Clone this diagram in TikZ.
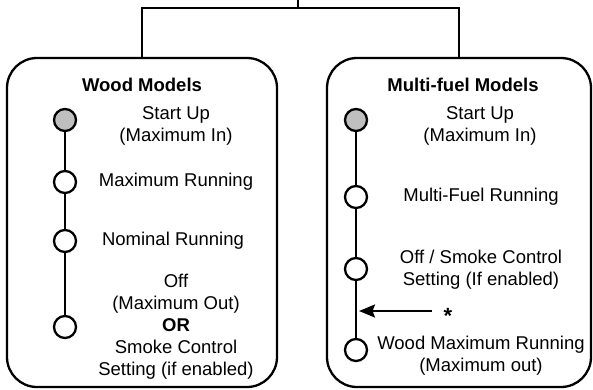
\documentclass[tikz,border=0pt]{standalone}
\usepackage{fontspec}
\setmainfont{Liberation Sans}
\usepackage{tikz}
\usetikzlibrary{calc, arrows.meta}

\begin{document}
\begin{tikzpicture}[x = 1pt, y = -1pt, line width = 2.2pt,
  model/.style = {draw, line width = 2.3pt, rounded corners = 30pt,
    minimum height = 329pt, inner sep = 0pt},
  stop/.style = {draw, circle, line width = 2.3pt, minimum size = 22pt,
    inner sep = 0pt, fill = white},
  txt/.style = {align = center, inner sep = 0pt, font = \fontsize{18.5}{22}\selectfont},
  head/.style = {txt, font = \fontsize{18.5}{22}\selectfont\bfseries}]
  \useasboundingbox (0, 0) rectangle (593, 389);

  % 枠
  \node [model, minimum width = 270pt] (wood) at (142, 222.5) {};
  \node [model, minimum width = 264pt] (multi) at (459, 222.5) {};

  % 上の線
  \coordinate (top) at (298, 0);
  \coordinate (split) at (298, 8);
  \draw (top) -- (split);
  \draw (wood.north) |- (split) -| (multi.north);

  % 見出し
  \node [head] (woodtitle) at (142, 85) {Wood Models};
  \node [head] (multititle) at (463, 85) {Multi-fuel Models};

  % 円 (Wood)
  \node [stop, fill = black!25] (w1) at (65, 120) {};
  \node [stop] (w2) at (65, 182) {};
  \node [stop] (w3) at (65, 241) {};
  \node [stop] (w4) at (65, 327) {};
  \draw (w1) -- (w2) -- (w3) -- (w4);

  % 円 (Multi-fuel)
  \node [stop, fill = black!25] (m1) at (356, 120) {};
  \node [stop] (m2) at (356, 197) {};
  \node [stop] (m3) at (356, 269) {};
  \node [stop] (m4) at (356, 350) {};
  \draw (m1) -- (m2) -- (m3) -- (m4);

  % 文字 (Wood)
  \node [txt] (wt1) at (176, 126) {Start Up\\(Maximum In)};
  \node [txt] (wt2) at (176, 182) {Maximum Running};
  \node [txt] (wt3) at (173, 241) {Nominal Running};
  \node [txt] (wt4) at (176, 327) {Off\\(Maximum Out)\\\textbf{OR}\\Smoke Control\\Setting (if enabled)};

  % 文字 (Multi-fuel)
  \node [txt] (mt1) at (480, 126) {Start Up\\(Maximum In)};
  \node [txt] (mt2) at (481, 197) {Multi-Fuel Running};
  \node [txt] (mt3) at (481, 269.5) {Off / Smoke Control\\Setting (If enabled)};
  \node [txt] (mt4) at (481, 355.5) {Wood Maximum Running\\(Maximum out)};

  % 矢印
  \node [txt, inner xsep = 11pt, font = \fontsize{22}{22}\selectfont] (star) at (448, 316) {\textbf{*}};
  \coordinate (hit) at (359, 311);
  \draw [-{Stealth[length = 16pt, width = 13pt, inset = 2.5pt]}] (hit -| star.west) -- (hit);
\end{tikzpicture}
\end{document}
